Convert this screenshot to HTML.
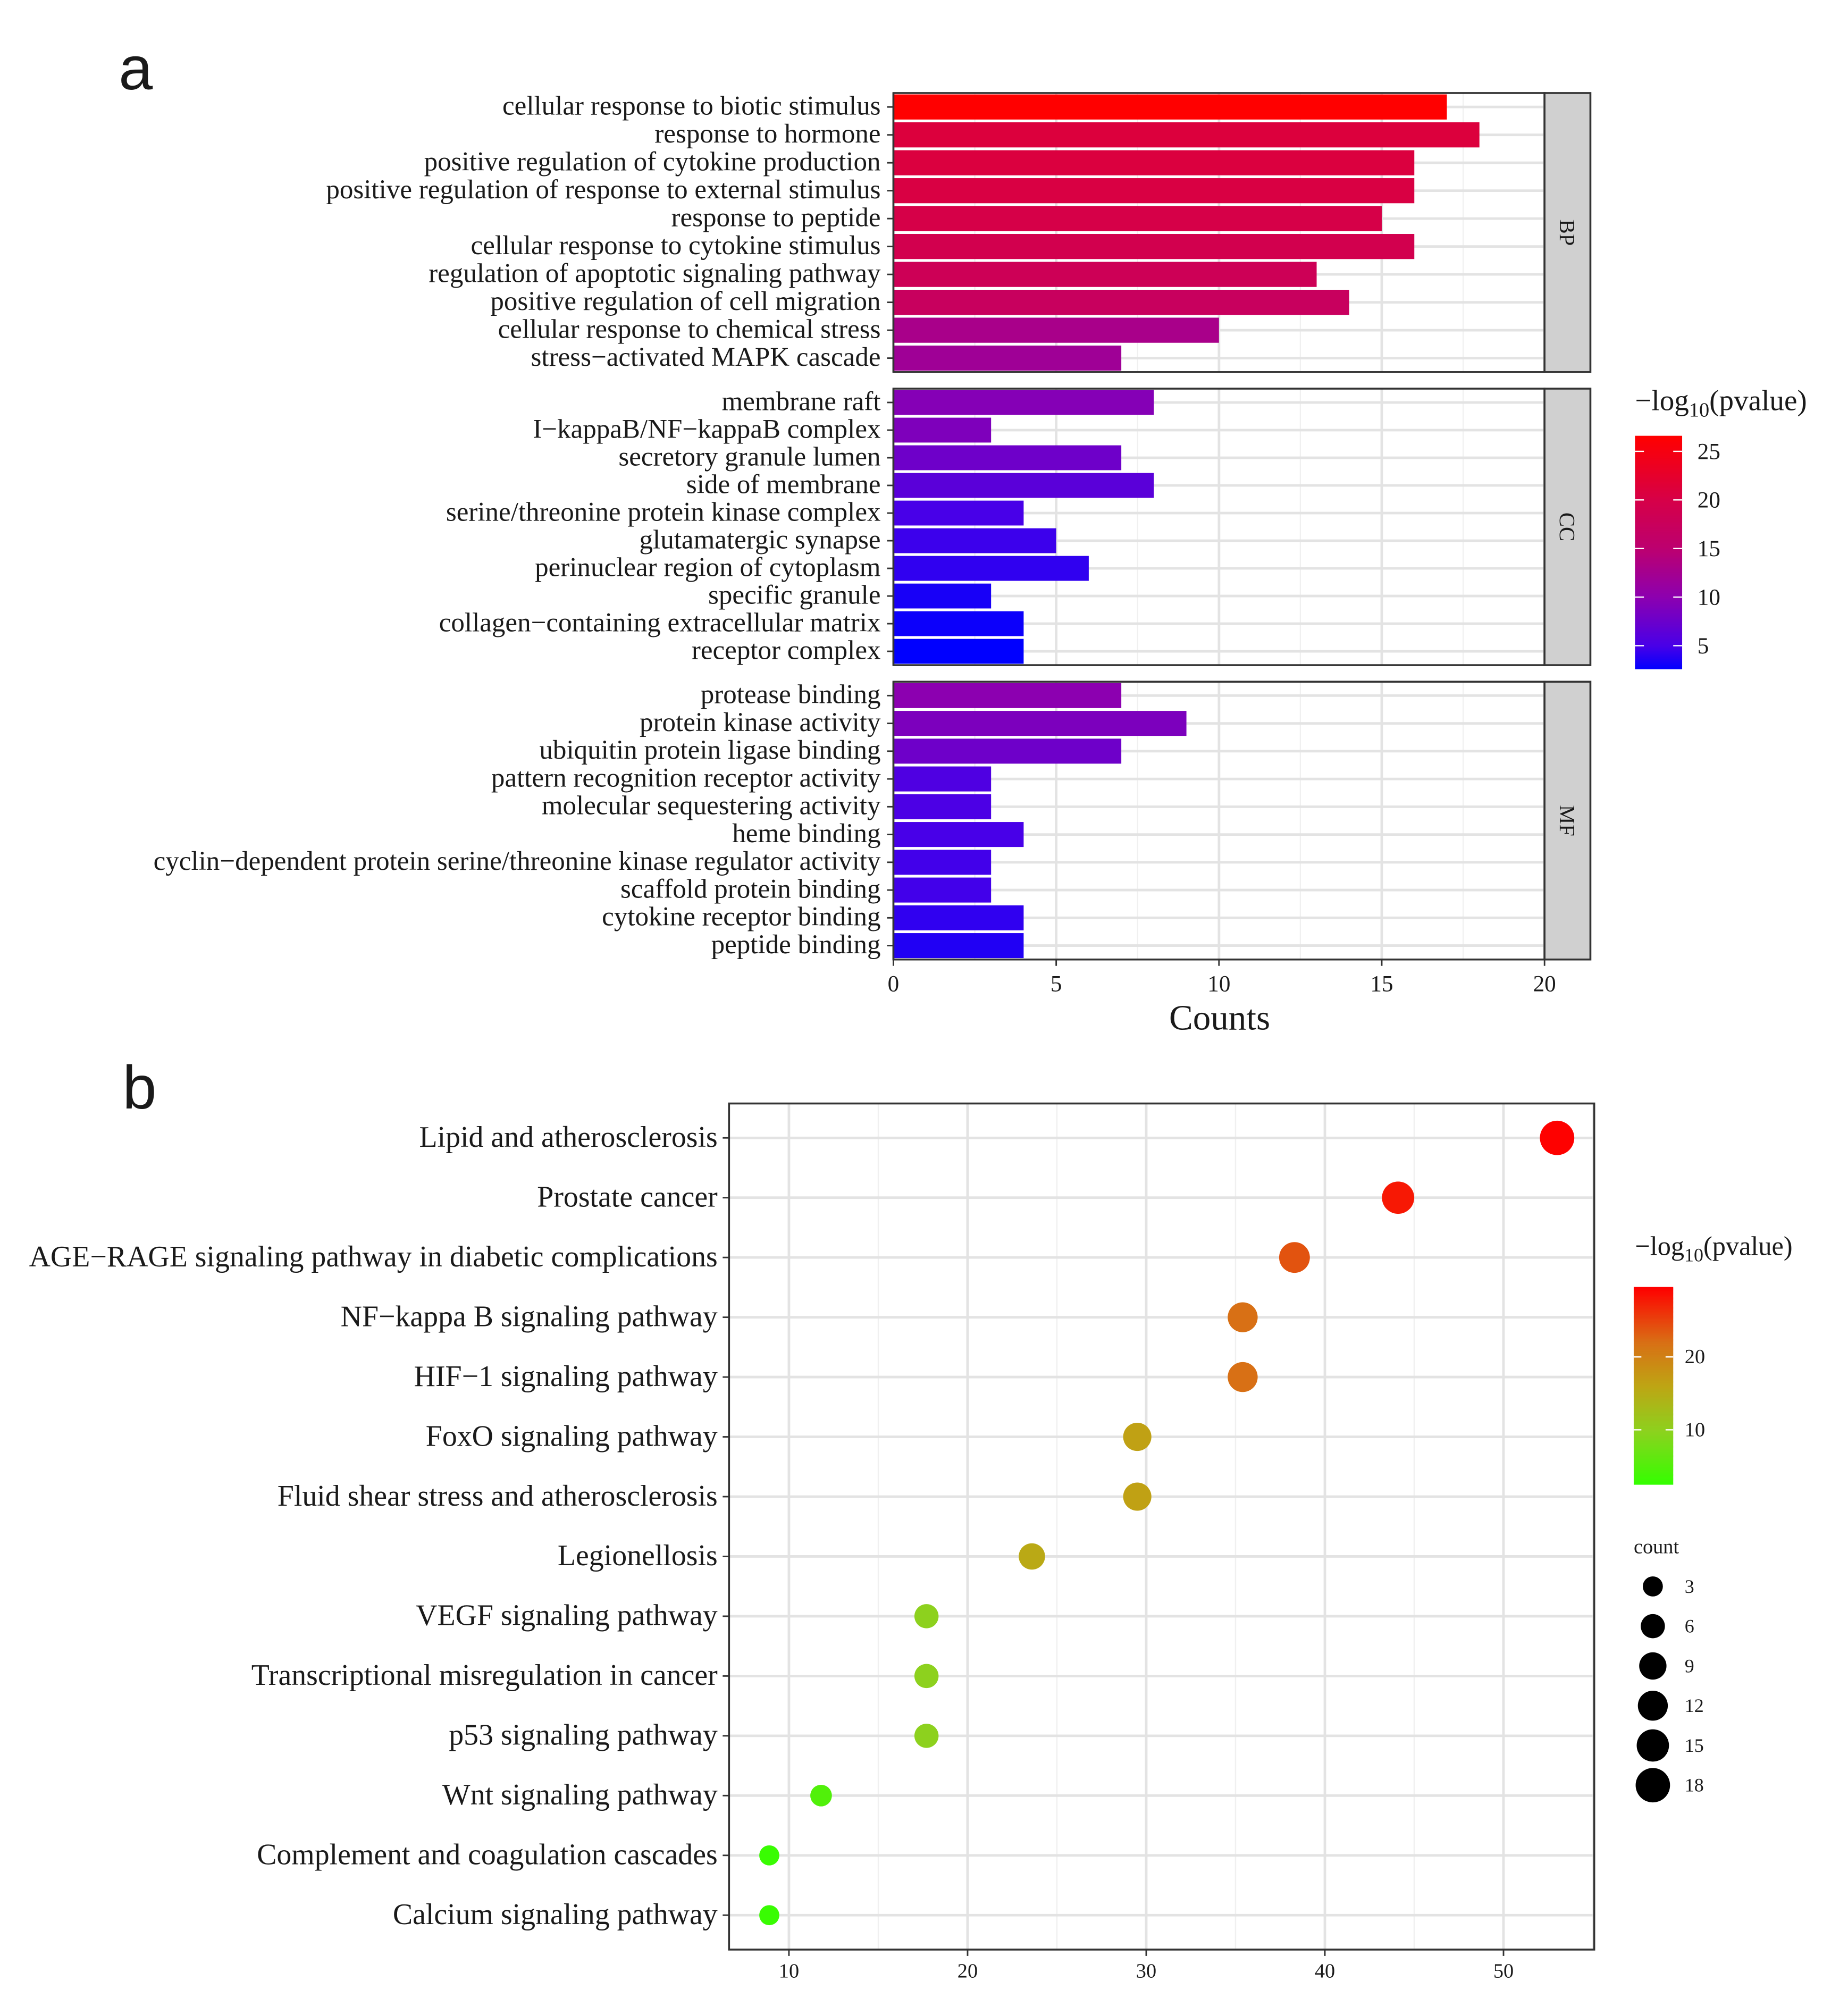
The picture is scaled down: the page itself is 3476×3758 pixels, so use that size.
<!DOCTYPE html>
<html><head><meta charset="utf-8"><style>
html,body{margin:0;padding:0;background:#fff;}
svg{display:block;}
text{font-family:"Liberation Serif",serif;fill:#1a1a1a;}
</style></head><body>
<svg id="root" xmlns="http://www.w3.org/2000/svg" width="3476" height="3758" viewBox="0 0 1450 1568">
<rect width="1450" height="1568" fill="#fff"/>
<text x="93" y="70" font-size="48" style="font-family:'Liberation Sans',sans-serif">a</text>
<text x="96" y="870" font-size="48" style="font-family:'Liberation Sans',sans-serif">b</text>
<g id="ga"></g>
<g id="gb"></g>
</svg>
<script>
// ---- Panel a data ----
const bpTerms=["cellular response to biotic stimulus","response to hormone","positive regulation of cytokine production","positive regulation of response to external stimulus","response to peptide","cellular response to cytokine stimulus","regulation of apoptotic signaling pathway","positive regulation of cell migration","cellular response to chemical stress","stress\u2212activated MAPK cascade"];
const bpCounts=[17,18,16,16,15,16,13,14,10,7];
const bpLogP=[26.6,21,20.8,20.5,20,19.3,18.3,17.3,13,12];
const ccTerms=["membrane raft","I\u2212kappaB/NF\u2212kappaB complex","secretory granule lumen","side of membrane","serine/threonine protein kinase complex","glutamatergic synapse","perinuclear region of cytoplasm","specific granule","collagen\u2212containing extracellular matrix","receptor complex"];
const ccCounts=[8,3,7,8,4,5,6,3,4,4];
const ccLogP=[9.5,9,7.8,6.3,5,4.6,4.2,3.4,3,2.6];
const mfTerms=["protease binding","protein kinase activity","ubiquitin protein ligase binding","pattern recognition receptor activity","molecular sequestering activity","heme binding","cyclin\u2212dependent protein serine/threonine kinase regulator activity","scaffold protein binding","cytokine receptor binding","peptide binding"];
const mfCounts=[7,9,7,3,3,4,3,3,4,4];
const mfLogP=[10,8.8,7.8,5.5,5.3,5,4.8,4.8,4.2,3.7];
const facetNames=["BP","CC","MF"];
const countTicks=[0,5,10,15,20];
const legATicks=[5,10,15,20,25];
// ---- Panel b data ----
const keggTerms=["Lipid and atherosclerosis","Prostate cancer","AGE\u2212RAGE signaling pathway in diabetic complications","NF\u2212kappa B signaling pathway","HIF\u22121 signaling pathway","FoxO signaling pathway","Fluid shear stress and atherosclerosis","Legionellosis","VEGF signaling pathway","Transcriptional misregulation in cancer","p53 signaling pathway","Wnt signaling pathway","Complement and coagulation cascades","Calcium signaling pathway"];
const keggX=[53,44.1,38.3,35.4,35.4,29.5,29.5,23.6,17.7,17.7,17.7,11.8,8.9,8.9];
const keggCount=[18,15,13,12,12,10,10,8,6,6,6,4,3,3];
const keggLogP=[29.5,28,24,22,22,16.5,16.5,15.5,10,10,10,5,3,3];
const xTicksB=[10,20,30,40,50];
const legBTicks=[10,20];
const sizeLegend=[3,6,9,12,15,18];

const NS="http://www.w3.org/2000/svg";
function mk(tag,attrs,parent,txt){const e=document.createElementNS(NS,tag);for(const k in attrs)e.setAttribute(k,attrs[k]);if(txt!==undefined)e.textContent=txt;parent.appendChild(e);return e;}
function lerpStops(stops,t){t=Math.max(stops[0][0],Math.min(stops[stops.length-1][0],t));for(let i=1;i<stops.length;i++){if(t<=stops[i][0]){const a=stops[i-1],b=stops[i];const u=(t-a[0])/(b[0]-a[0]);const c=[0,1,2].map(j=>Math.round(a[1][j]+(b[1][j]-a[1][j])*u));return `rgb(${c[0]},${c[1]},${c[2]})`;}}const l=stops[stops.length-1][1];return `rgb(${l[0]},${l[1]},${l[2]})`;}
const stopsA=[[2.6,[0,0,255]],[5,[72,0,232]],[10,[140,0,176]],[15,[188,0,112]],[20,[214,0,72]],[26.6,[255,0,0]]];
const minA=2.6,maxA=26.6;
function colA(v){return lerpStops(stopsA,v);}
const stopsB=[[0,[51,255,0]],[0.27,[140,210,30]],[0.5,[190,165,20]],[0.72,[216,112,21]],[1,[255,0,0]]];
const minB=2.5,maxB=29.6;
function colB(v){return lerpStops(stopsB,(v-minB)/(maxB-minB));}

// ---- Panel a ----
const ga=document.getElementById('ga');
const x0=701,x1=1212;const xA=v=>x0+(x1-x0)*v/20;
const panelsY=[[73,292],[305,522],[535,753]];
const allTerms=[bpTerms,ccTerms,mfTerms],allC=[bpCounts,ccCounts,mfCounts],allP=[bpLogP,ccLogP,mfLogP];
panelsY.forEach((py,pi)=>{
  const g=mk('g',{},ga);
  const [ya,yb]=py;const n=allTerms[pi].length;const step=(yb-ya)/n;
  mk('rect',{x:x0,y:ya,width:x1-x0,height:yb-ya,fill:'#fff'},g);
  for(let v=2.5;v<20;v+=5)mk('line',{x1:xA(v),x2:xA(v),y1:ya,y2:yb,stroke:'#f0f0f0','stroke-width':1},g);
  countTicks.forEach(v=>mk('line',{x1:xA(v),x2:xA(v),y1:ya,y2:yb,stroke:'#e3e3e3','stroke-width':2},g));
  for(let i=0;i<n;i++){const cy=ya+step*(i+0.5);mk('line',{x1:x0,x2:x1,y1:cy,y2:cy,stroke:'#e3e3e3','stroke-width':2},g);}
  allTerms[pi].forEach((t,i)=>{
    const cy=ya+step*(i+0.5);
    const b=mk('rect',{x:x0,y:cy-step*0.45,width:xA(allC[pi][i])-x0,height:step*0.9,fill:colA(allP[pi][i])},g);
    
    mk('line',{x1:x0-5,x2:x0,y1:cy,y2:cy,stroke:'#333','stroke-width':1.2},g);
    const tl=mk('text',{x:x0-10,y:cy+6,'font-size':21.3,'text-anchor':'end'},g,t);
    
  });
  mk('rect',{x:x0,y:ya,width:x1-x0,height:yb-ya,fill:'none',stroke:'#333','stroke-width':1.5},g);
  mk('rect',{x:x1,y:ya,width:36,height:yb-ya,fill:'#d0d0d0',stroke:'#333','stroke-width':1.5},g);
  const s=mk('text',{x:x1+18,y:(ya+yb)/2,'font-size':17,'text-anchor':'middle',transform:`rotate(90 ${x1+18} ${(ya+yb)/2})`,dy:6},g,facetNames[pi]);
  
});
countTicks.forEach(v=>{mk('line',{x1:xA(v),x2:xA(v),y1:753,y2:758,stroke:'#333','stroke-width':1.2},ga);
  const t=mk('text',{x:xA(v),y:778,'font-size':18,'text-anchor':'middle'},ga,v);});
const xt=mk('text',{x:957,y:808,'font-size':28,'text-anchor':'middle'},ga,'Counts');
// legend a
const la=mk('g',{},ga);
const lt=mk('text',{x:1283,y:322,'font-size':23},la);lt.innerHTML='\u2212log<tspan font-size="16" dy="5">10</tspan><tspan dy="-5">(pvalue)</tspan>';
const lyA=v=>525-(v-minA)/(maxA-minA)*(525-342);
for(let y=342;y<525;y+=1){mk('rect',{x:1283,y:y,width:37,height:1.2,fill:colA(minA+(525-y)/(525-342)*(maxA-minA))},la);}
legATicks.forEach(v=>{const y=lyA(v);mk('line',{x1:1283,x2:1290,y1:y,y2:y,stroke:'#fff','stroke-width':1},la);mk('line',{x1:1313,x2:1320,y1:y,y2:y,stroke:'#fff','stroke-width':1},la);mk('text',{x:1332,y:y+6,'font-size':18},la,v);});

// ---- Panel b ----
const gb=document.getElementById('gb');
const bx0=572,bx1=1251,by0=866,by1=1530;
const xB=v=>619+(v-10)*14.02;
const yB=i=>893+i*(1503-893)/13;
mk('rect',{x:bx0,y:by0,width:bx1-bx0,height:by1-by0,fill:'#fff'},gb);
for(let v=15;v<=55;v+=10)if(xB(v)<bx1)mk('line',{x1:xB(v),x2:xB(v),y1:by0,y2:by1,stroke:'#f0f0f0','stroke-width':1},gb);
xTicksB.forEach(v=>mk('line',{x1:xB(v),x2:xB(v),y1:by0,y2:by1,stroke:'#e3e3e3','stroke-width':2},gb));
keggTerms.forEach((t,i)=>mk('line',{x1:bx0,x2:bx1,y1:yB(i),y2:yB(i),stroke:'#e3e3e3','stroke-width':2},gb));
const rOf=c=>4+Math.sqrt(c/18)*9.5;
keggTerms.forEach((t,i)=>{
  const c=mk('circle',{cx:xB(keggX[i]),cy:yB(i),r:rOf(keggCount[i]),fill:colB(keggLogP[i])},gb);
  
  mk('line',{x1:bx0-5,x2:bx0,y1:yB(i),y2:yB(i),stroke:'#333','stroke-width':1.2},gb);
  const l=mk('text',{x:bx0-9,y:yB(i)+7,'font-size':23.3,'text-anchor':'end'},gb,t);
  
});
mk('rect',{x:bx0,y:by0,width:bx1-bx0,height:by1-by0,fill:'none',stroke:'#333','stroke-width':1.5},gb);
xTicksB.forEach(v=>{mk('line',{x1:xB(v),x2:xB(v),y1:by1,y2:by1+5,stroke:'#333','stroke-width':1.2},gb);
  const t=mk('text',{x:xB(v),y:by1+22,'font-size':16,'text-anchor':'middle'},gb,v);});
// legend b
const lb=mk('g',{},gb);
const lbt=mk('text',{x:1283,y:985,'font-size':21},lb);lbt.innerHTML='\u2212log<tspan font-size="15" dy="5">10</tspan><tspan dy="-5">(pvalue)</tspan>';
const lyB=v=>1165-(v-minB)/(maxB-minB)*(1165-1010);
for(let y=1010;y<1165;y+=1){mk('rect',{x:1282,y:y,width:31,height:1.2,fill:colB(minB+(1165-y)/(1165-1010)*(maxB-minB))},lb);}
legBTicks.forEach(v=>{const y=lyB(v);mk('line',{x1:1282,x2:1288,y1:y,y2:y,stroke:'#fff'},lb);mk('line',{x1:1307,x2:1313,y1:y,y2:y,stroke:'#fff'},lb);mk('text',{x:1322,y:y+5,'font-size':16},lb,v);});
const ls=mk('g',{},gb);
mk('text',{x:1282,y:1219,'font-size':16},ls,'count');
sizeLegend.forEach((c,i)=>{const y=1245+i*31.2;mk('circle',{cx:1297,cy:y,r:rOf(c),fill:'#000'},ls);mk('text',{x:1322,y:y+5,'font-size':15},ls,c);});
</script>
</body></html>
